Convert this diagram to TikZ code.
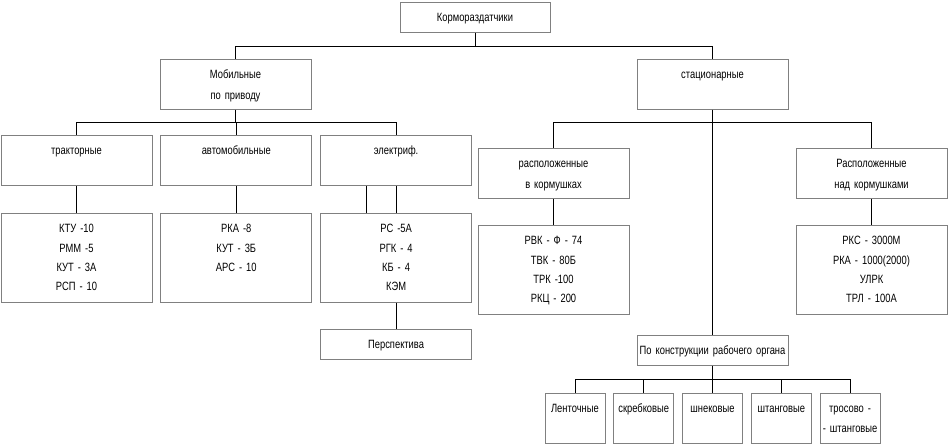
\documentclass[tikz,border=0pt]{standalone}
\usepackage{fontspec}
\setmainfont{Liberation Sans}[FakeStretch=0.78, WordSpace=0.75]
\usetikzlibrary{positioning}

\begin{document}
\begin{tikzpicture}[
  x=1pt, y=1pt,
  font=\fontsize{12}{19.4}\selectfont,
  box/.style={draw=gray, line width=0.8pt, inner sep=0pt, text width=151pt, align=center, text height=19.5pt},
  sm/.style={box, text depth=10.5pt},
  hd/.style={box, text depth=30.5pt},
  lst/.style={box, text depth=69.5pt},
  org/.style={box, text width=60pt, text depth=30.5pt},
  link/.style={line width=0.8pt},
]
  \useasboundingbox (0,0) rectangle (948,-444);

  \node[sm, text width=150pt, anchor=north] (root) at (475,-2) {Кормораздатчики};
  \node[hd, anchor=north] (mob) at (235.5,-59) {Мобильные\\[1.6pt]по приводу};
  \node[hd, anchor=north] (stat) at (712.5,-59) {стационарные};

  % mobile branch
  \node[hd, anchor=north] (trak) at (76.5,-135) {тракторные};
  \node[hd, right=8pt of trak] (avto) {автомобильные};
  \node[hd, right=8pt of avto] (elek) {электриф.};
  \node[lst, below=27pt of trak] (trakm) {КТУ -10\\РММ -5\\КУТ - 3А\\РСП - 10};
  \node[lst, below=27pt of avto] (avtom) {РКА -8\\КУТ - 3Б\\АРС - 10};
  \node[lst, below=27pt of elek] (elekm) {РС -5А\\РГК - 4\\КБ - 4\\КЭМ};
  \node[sm, below=26pt of elekm] (persp) {Перспектива};

  % stationary branch
  \node[hd, anchor=north] (vkorm) at (553.5,-148) {расположенные\\[1.6pt]в кормушках};
  \node[hd, anchor=north] (nadk) at (871.5,-148) {Расположенные\\[1.6pt]над кормушками};
  \node[lst, below=26pt of vkorm] (vkormm) {РВК - Ф - 74\\ТВК - 80Б\\ТРК -100\\РКЦ - 200};
  \node[lst, below=26pt of nadk] (nadkm) {РКС - 3000М\\РКА - 1000(2000)\\УЛРК\\ТРЛ - 100А};
  \node[sm, anchor=north] (konstr) at (712.5,-335) {\mbox{По конструкции рабочего органа}};
  \node[org, below=27pt of konstr] (shnek) {шнековые};
  \node[org, left=8pt of shnek] (skreb) {скребковые};
  \node[org, left=8pt of skreb] (lent) {Ленточные};
  \node[org, right=8pt of shnek] (shtang) {штанговые};
  \node[org, right=8pt of shtang] (tros) {тросово -\\- штанговые};

  % connectors
  \draw[link] (root.south) -- ++(0,-14) -| (mob.north);
  \draw[link] (root.south) -- ++(0,-14) -| (stat.north);
  \foreach \n in {trak,avto,elek}
    \draw[link] (mob.south) -- ++(0,-13) -| (\n.north);
  \draw[link] (trak) -- (trakm);
  \draw[link] (avto) -- (avtom);
  \draw[link] (elek) -- (elekm);
  \draw[link] ([xshift=-30pt]elek.south) -- ([xshift=-30pt]elekm.north);
  \draw[link] (elekm) -- (persp);
  \foreach \n in {vkorm,nadk}
    \draw[link] (stat.south) -- ++(0,-13) -| (\n.north);
  \draw[link] (stat) -- (konstr);
  \draw[link] (vkorm) -- (vkormm);
  \draw[link] (nadk) -- (nadkm);
  \foreach \n in {lent,skreb,shnek,shtang,tros}
    \draw[link] (konstr.south) -- ++(0,-14) -| (\n.north);
\end{tikzpicture}
\end{document}
